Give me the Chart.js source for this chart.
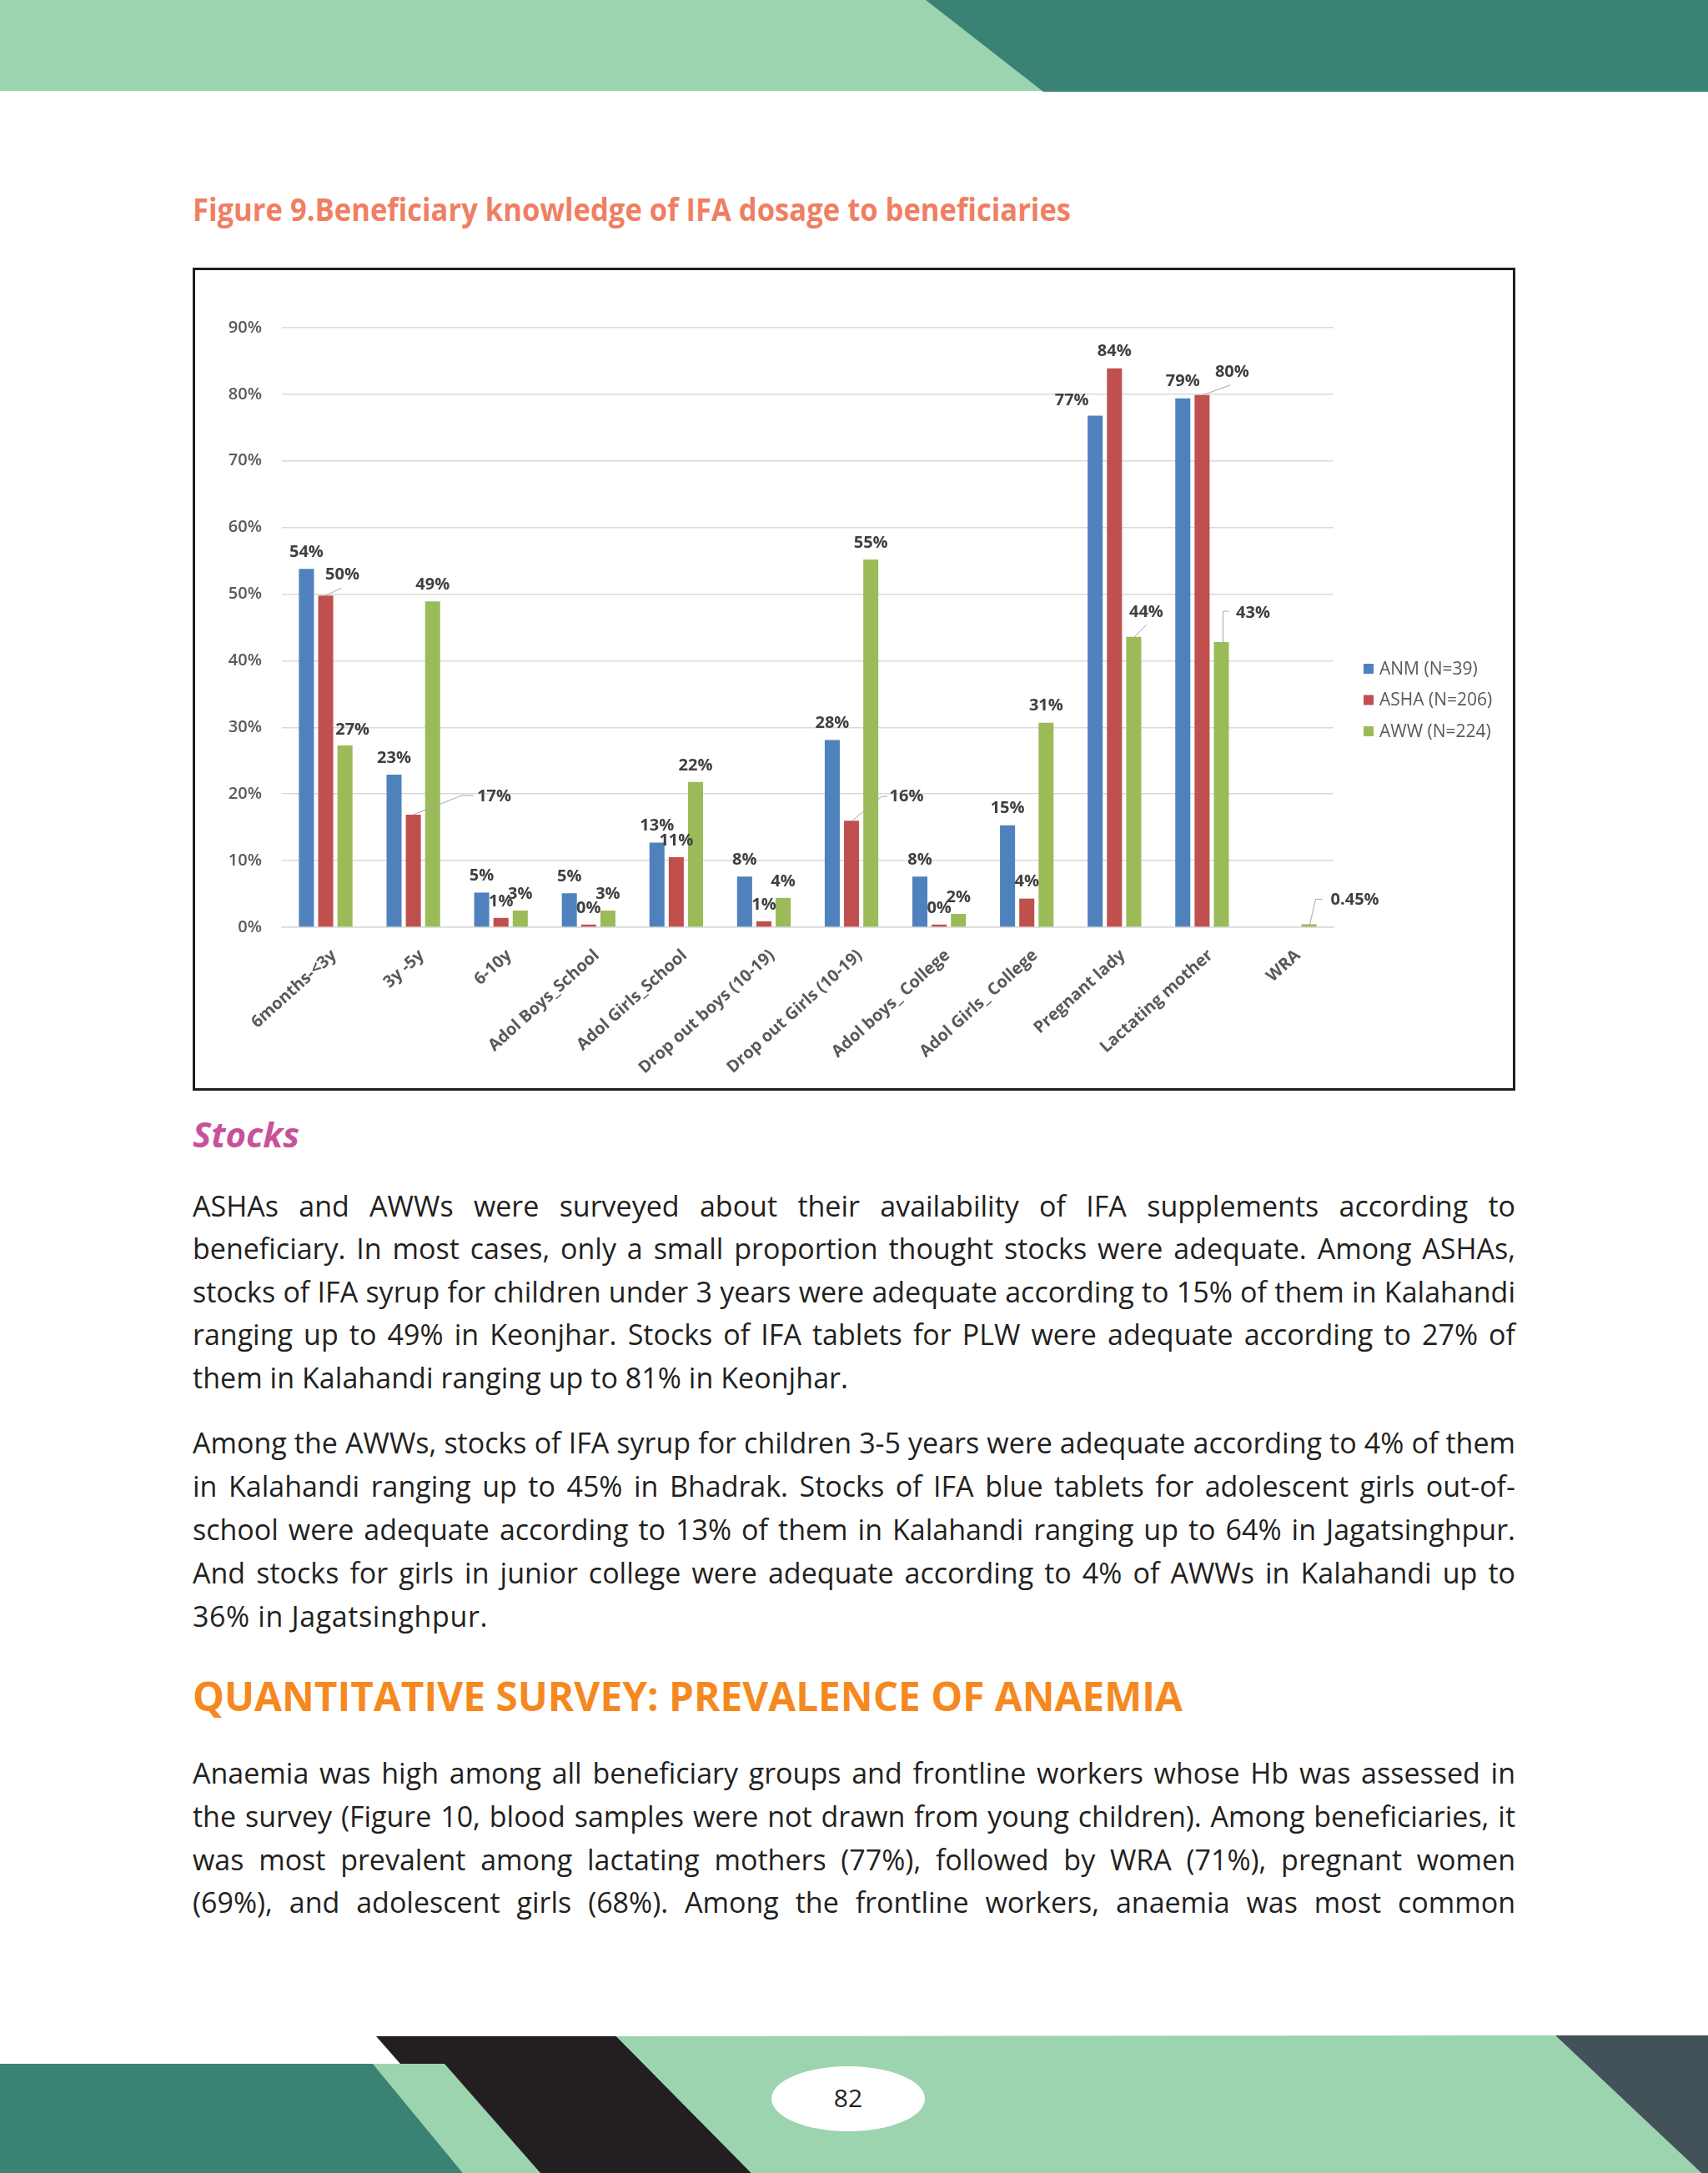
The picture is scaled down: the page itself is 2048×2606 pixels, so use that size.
<!DOCTYPE html>
<html>
<head>
<meta charset="utf-8">
<script src="https://cdn.jsdelivr.net/npm/chart.js@4.4.0/dist/chart.umd.min.js"></script>
<style>
html,body{margin:0;padding:0;background:#fff;}
body{width:2048px;height:2606px;position:relative;overflow:hidden;font-family:"Open Sans",sans-serif;}
.t{position:absolute;white-space:nowrap;line-height:1;display:inline-block;}
.b{font-size:34px;color:#231f20;left:231px;}
#chartBox{position:absolute;left:231px;top:321px;width:1586px;height:987px;border:3px solid #1e1e1e;box-sizing:border-box;background:#fff;}
#c{position:absolute;left:0;top:0;}
svg.deco{position:absolute;left:0;top:0;}
</style>
</head>
<body>
<svg class="deco" width="2048" height="2606" viewBox="0 0 2048 2606">
  <rect x="0" y="0" width="2048" height="109" fill="#9cd4b0"/>
  <polygon points="1110,0 2048,0 2048,110 1251,110" fill="#3a8374"/>
  <polygon points="451,2442 739,2442 901,2606 595,2606" fill="#231f20"/>
  <polygon points="447,2475 533,2475 648,2606 555,2606" fill="#9cd4b0"/>
  <polygon points="0,2475 447,2475 555,2606 0,2606" fill="#3a8374"/>
  <polygon points="739,2442 1865,2441 2040,2606 901,2606" fill="#9cd4b0"/>
  <polygon points="1865,2441 2048,2441 2048,2606 2040,2606" fill="#435159"/>
  <ellipse cx="1017" cy="2517" rx="92" ry="39" fill="#ffffff"/>
</svg>

<div class="t fit" data-w="1053" style="left:231px;top:231px;font-size:38px;font-weight:700;color:#ef7f62;">Figure 9.Beneficiary knowledge of IFA dosage to beneficiaries</div>

<div id="chartBox"><canvas id="c" width="1580" height="981"></canvas></div>

<div class="t fit" data-w="128" style="left:231px;top:1339px;font-size:42px;font-weight:700;font-style:italic;color:#c7519b;">Stocks</div>

<div class="t b j" data-w="1586" style="top:1428.8px;">ASHAs and AWWs were surveyed about their availability of IFA supplements according to</div>
<div class="t b j" data-w="1586" style="top:1480.3px;">beneficiary. In most cases, only a small proportion thought stocks were adequate. Among ASHAs,</div>
<div class="t b j" data-w="1586" style="top:1531.8px;">stocks of IFA syrup for children under 3 years were adequate according to 15% of them in Kalahandi</div>
<div class="t b j" data-w="1586" style="top:1583.3px;">ranging up to 49% in Keonjhar. Stocks of IFA tablets for PLW were adequate according to 27% of</div>
<div class="t b last" data-w="786" style="top:1634.8px;">them in Kalahandi ranging up to 81% in Keonjhar.</div>

<div class="t b j" data-w="1586" style="top:1712.8px;">Among the AWWs, stocks of IFA syrup for children 3-5 years were adequate according to 4% of them</div>
<div class="t b j" data-w="1586" style="top:1764.8px;">in Kalahandi ranging up to 45% in Bhadrak. Stocks of IFA blue tablets for adolescent girls out-of-</div>
<div class="t b j" data-w="1586" style="top:1816.8px;">school were adequate according to 13% of them in Kalahandi ranging up to 64% in Jagatsinghpur.</div>
<div class="t b j" data-w="1586" style="top:1868.8px;">And stocks for girls in junior college were adequate according to 4% of AWWs in Kalahandi up to</div>
<div class="t b last" data-w="354" style="top:1920.8px;">36% in Jagatsinghpur.</div>

<div class="t fit" data-w="1187" style="left:231px;top:2010.4px;font-size:48px;font-weight:700;color:#f5891f;">QUANTITATIVE SURVEY: PREVALENCE OF ANAEMIA</div>

<div class="t b j" data-w="1586" style="top:2108.8px;">Anaemia was high among all beneficiary groups and frontline workers whose Hb was assessed in</div>
<div class="t b j" data-w="1586" style="top:2160.8px;">the survey (Figure 10, blood samples were not drawn from young children). Among beneficiaries, it</div>
<div class="t b j" data-w="1586" style="top:2212.8px;">was most prevalent among lactating mothers (77%), followed by WRA (71%), pregnant women</div>
<div class="t b j" data-w="1586" style="top:2263.8px;">(69%), and adolescent girls (68%). Among the frontline workers, anaemia was most common</div>

<div class="t" style="left:1017px;top:2501px;font-size:30px;color:#231f20;transform:translateX(-50%);">82</div>

<script>
// ---------------- DATA ----------------
const categories = ['6months-<3y', '3y -5y', '6-10y', 'Adol Boys_School', 'Adol Girls_School',
  'Drop out boys (10-19)', 'Drop out Girls (10-19)', 'Adol boys_ College', 'Adol Girls_ College',
  'Pregnant lady', 'Lactating mother', 'WRA'];
const seriesNames = ['ANM (N=39)', 'ASHA (N=206)', 'AWW (N=224)'];
const anmValues  = [53.8, 22.9, 5.2, 5.1, 12.7, 7.6, 28.1, 7.6, 15.3, 76.8, 79.4, null];
const ashaValues = [49.8, 16.9, 1.4, 0.4, 10.5, 0.9, 16.0, 0.4, 4.3, 83.9, 79.9, null];
const awwValues  = [27.3, 48.9, 2.5, 2.5, 21.8, 4.4, 55.2, 2.0, 30.7, 43.6, 42.8, 0.45];
const yTickValues = [0, 10, 20, 30, 40, 50, 60, 70, 80, 90];

// ---------------- STYLE ----------------
const seriesColors = ['#4F81BD', '#C0504D', '#9BBB59'];

// label placement relative to the top-centre of each bar (dataset:index)
const labelPlacement = {
  '1:0':  {dx: 20, dy: -25, leader: [[0,0],[19,-9]]},
  '2:0':  {dx: 9,  dy: -19},
  '1:1':  {dx: 97, dy: -22, leader: [[0,0],[58,-23],[72,-23]]},
  '1:6':  {dx: 66, dy: -29, leader: [[1,0],[36,-29],[43,-29]]},
  '0:9':  {dx: -28, dy: -18},
  '2:9':  {dx: 15, dy: -29, leader: [[1,0],[15,-14]]},
  '1:10': {dx: 36, dy: -27, leader: [[1,0],[34,-12]]},
  '2:10': {dx: 38, dy: -35, leader: [[2,0],[2,-37],[9,-37]]},
  '2:11': {dx: 55, dy: -29, leader: [[1,0],[8,-30],[16,-30]]}
};
const defaultPlacement = {dx: 0, dy: -20};

function fmtPct(v) {
  const h = Math.round(v * 100);
  if (h % 10 !== 0) return v.toFixed(2) + '%';
  return Math.round(v) + '%';
}

const labelPlugin = {
  id: 'barLabels',
  afterDatasetsDraw(chart) {
    const ctx = chart.ctx;
    ctx.save();
    ctx.font = 'bold 20px "Open Sans"';
    ctx.textAlign = 'center';
    ctx.textBaseline = 'middle';
    chart.data.datasets.forEach((ds, di) => {
      const meta = chart.getDatasetMeta(di);
      meta.data.forEach((bar, i) => {
        const v = ds.data[i];
        if (v === null || v === undefined) return;
        const p = labelPlacement[di + ':' + i] || defaultPlacement;
        if (p.leader) {
          ctx.strokeStyle = '#a6a6a6';
          ctx.lineWidth = 1;
          ctx.beginPath();
          p.leader.forEach((pt, k) => {
            const x = bar.x + pt[0], y = bar.y + pt[1];
            if (k === 0) ctx.moveTo(x, y); else ctx.lineTo(x, y);
          });
          ctx.stroke();
        }
        ctx.fillStyle = '#404040';
        ctx.fillText(fmtPct(v), bar.x + p.dx, bar.y + p.dy);
      });
    });
    ctx.restore();
  }
};

const legendPlugin = {
  id: 'sideLegend',
  afterDraw(chart) {
    const ctx = chart.ctx;
    ctx.save();
    ctx.font = '21px "Open Sans"';
    ctx.textAlign = 'left';
    ctx.textBaseline = 'middle';
    chart.data.datasets.forEach((ds, i) => {
      const y = 478 + i * 37.5;
      ctx.fillStyle = ds.backgroundColor;
      ctx.fillRect(1401, y - 6, 12, 12);
      ctx.fillStyle = '#595959';
      ctx.fillText(ds.label, 1420, y + 1);
    });
    ctx.restore();
  }
};

const valueSets = [anmValues, ashaValues, awwValues];

new Chart(document.getElementById('c').getContext('2d'), {
  type: 'bar',
  data: {
    labels: categories,
    datasets: seriesNames.map((name, i) => ({
      label: name,
      data: valueSets[i],
      backgroundColor: seriesColors[i],
      barPercentage: 0.78,
      categoryPercentage: 0.66
    }))
  },
  options: {
    responsive: false,
    animation: false,
    devicePixelRatio: 1,
    layout: {padding: {left: 0, right: 215, top: 69, bottom: 0}},
    plugins: {legend: {display: false}, tooltip: {enabled: false}, title: {display: false}},
    scales: {
      x: {
        grid: {display: false, drawTicks: false},
        border: {display: true, color: '#d9d9d9', width: 1.5},
        ticks: {
          color: '#595959',
          font: {family: 'Open Sans', size: 20, weight: 'bold'},
          minRotation: 42, maxRotation: 42,
          padding: 22, labelOffset: 10, autoSkip: false
        },
        afterFit(s) { s.height = 193; }
      },
      y: {
        min: yTickValues[0],
        max: yTickValues[yTickValues.length - 1],
        grid: {color: '#d9d9d9', lineWidth: 1.5, drawTicks: false},
        border: {display: false},
        ticks: {
          stepSize: yTickValues[1] - yTickValues[0],
          padding: 24,
          color: '#595959',
          font: {family: 'Open Sans', size: 20, weight: '600'},
          callback: v => v + '%'
        },
        afterFit(s) { s.width = 104; }
      }
    }
  },
  plugins: [labelPlugin, legendPlugin]
});

// ---------------- page text fitting ----------------
document.querySelectorAll('.fit').forEach(el => {
  const target = parseFloat(el.dataset.w);
  const w = el.getBoundingClientRect().width;
  el.style.transformOrigin = '0 0';
  el.style.transform = 'scaleX(' + (target / w) + ')';
});
document.querySelectorAll('.j').forEach(el => {
  const target = parseFloat(el.dataset.w);
  el.style.wordSpacing = '0px';
  const w = el.getBoundingClientRect().width;
  const spaces = (el.textContent.match(/ /g) || []).length;
  if (spaces > 0) el.style.wordSpacing = ((target - w) / spaces) + 'px';
});
document.querySelectorAll('.last').forEach(el => {
  const target = parseFloat(el.dataset.w);
  const w = el.getBoundingClientRect().width;
  const n = el.textContent.length;
  el.style.letterSpacing = ((target - w) / n) + 'px';
});
</script>
</body>
</html>
